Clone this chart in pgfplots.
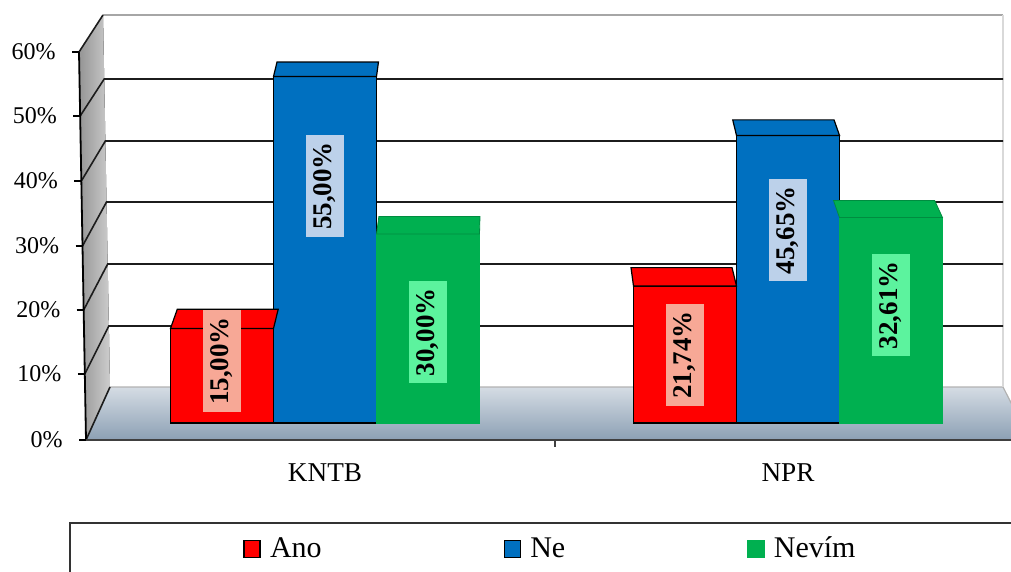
\documentclass[border=0pt]{standalone}
\usepackage{pgfplots}
\pgfplotsset{compat=1.18}
\usepackage{pgfplotstable}
\usepackage{fontspec}
\setmainfont{Liberation Serif}

\definecolor{anoF}{HTML}{FF0000}
\definecolor{anoT}{HTML}{C40000}
\definecolor{anoL}{HTML}{F7A896}
\definecolor{neF}{HTML}{0070C0}
\definecolor{neT}{HTML}{00569C}
\definecolor{neL}{HTML}{BCD1EA}
\definecolor{nevF}{HTML}{00B050}
\definecolor{nevT}{HTML}{008C40}
\definecolor{nevL}{HTML}{5CF39E}
\definecolor{floorA}{HTML}{D5DCE4}
\definecolor{floorB}{HTML}{8CA0B4}
\definecolor{wallA}{HTML}{959595}
\definecolor{wallB}{HTML}{CDCDCD}
\definecolor{gridc}{HTML}{1C1C1C}

% bar centres (horizontal drawing units), shares in %, label heights in %
\pgfplotstableread{
cat  xa   xb   xc   ano    ne     nevim  lano  lne   lnev
KNTB 222  325  428  15.00  55.00  30.00  9.84  37.6  14.4
NPR  685  788  891  21.74  45.65  32.61  10.8  30.6  18.7
}\survey

% vertical drawing row -> axis value (bar plane: 0 % at row 423, 6.3 rows per %)
\newcommand\rw[1]{{(423-#1)/6.3}}

% top face of a 3D bar, drawn as a plot mark at the bar's top centre.
% The mark reads its own position (axis corner = picture origin,
% 0.5pt per horizontal unit, 3.15pt per %) to set depth and perspective.
\pgfdeclareplotmark{topface}{%
  \pgfgettransformentries{\tfa}{\tfb}{\tfcc}{\tfdd}{\tfsx}{\tfsy}%
  \pgfmathsetmacro\tfc{\tfsx/0.5}%
  \pgfmathsetmacro\tfv{\tfsy/3.15-2.698}%
  \pgfmathsetmacro\tfd{21-0.12*\tfv}%
  \pgfmathsetmacro\tfxl{0.5*(-51.5+\tfd*(505-\tfc+51.5)*0.00105)}%
  \pgfmathsetmacro\tfxr{0.5*(51.5+\tfd*(505-\tfc-51.5)*0.00105)}%
  \pgfmathsetmacro\tfy{0.5*\tfd}%
  \pgfpathmoveto{\pgfpoint{-25.75pt}{0pt}}%
  \pgfpathlineto{\pgfpoint{\tfxl pt}{\tfy pt}}%
  \pgfpathlineto{\pgfpoint{\tfxr pt}{\tfy pt}}%
  \pgfpathlineto{\pgfpoint{25.75pt}{0pt}}%
  \pgfpathclose
  \pgfusepathqfillstroke}

% grid level: front row, back row
\newcommand\gridlevel[2]{%
  \draw[gridc, line width=0.8pt]
    (axis cs:{79+(#1-52)*0.01804},\rw{#1}) --
    (axis cs:{103+(#2-15)*0.01882},\rw{#2}) -- (axis cs:1003,\rw{#2});}
% front tick and its label
\newcommand\frontlevel[2]{%
  \draw[black, line width=0.7pt]
    (axis cs:{79+(#1-52)*0.01804-7},\rw{#1}) -- (axis cs:{79+(#1-52)*0.01804},\rw{#1});
  \node[anchor=east, inner sep=0pt, font=\fontsize{12}{14}\selectfont]
    at (axis cs:{79+(#1-52)*0.01804-23},\rw{#1}) {#2\%};}

\pgfplotsset{
  pctlabel/.style={
    draw=none, mark=none, forget plot, point meta=explicit,
    nodes near coords={\pgfmathprintnumber[assume math mode=true,fixed,fixed zerofill,precision=2,use comma]{\pgfplotspointmeta}\%},
    nodes near coords style={anchor=center, rotate=90, fill=#1,
      font=\bfseries\fontsize{13.5}{15}\selectfont,
      text height=9.3pt, text depth=2.4pt, inner xsep=3.5pt, inner ysep=3.8pt}},
  sq/.style={legend image code/.code={%
      \draw[##1, line width=0.8pt] (0pt,-4.3pt) rectangle (8pt,4.3pt);}},
  bar3d/.style 2 args={ybar, bar width=103, bar shift=0pt, forget plot,
      fill=#1, mark=topface, mark options={fill=#2}},
}

\begin{document}
\begin{tikzpicture}
\begin{axis}[
  at={(0pt,0pt)}, anchor=south west,
  scale only axis, width=505.5pt, height=220pt,
  xmin=0, xmax=1011, ymin=-2.698, ymax=67.143,
  clip=false,
  axis line style={draw=none},
  ytick=\empty,
  xtick={325,788}, xticklabels={KNTB,NPR},
  major tick length=0pt,
  x tick label style={anchor=base, yshift=-20.5pt, font=\fontsize{13.6}{15}\selectfont},
  legend columns=3,
  legend style={draw=none, fill=none, at={(0.2404,-0.2477)}, anchor=west,
    inner sep=0pt, font=\fontsize{15}{17}\selectfont,
    nodes={inner sep=0pt},
    /tikz/every odd column/.append style={column sep=4.5pt},
    /tikz/every even column/.append style={column sep=91pt}},
]
% side wall
\fill[left color=wallA, right color=wallB]
  (axis cs:79,\rw{52}) -- (axis cs:103,\rw{15}) -- (axis cs:110,\rw{387}) -- (axis cs:86,\rw{440}) -- cycle;
% floor
\fill[top color=floorA, bottom color=floorB]
  (axis cs:86,\rw{440}) -- (axis cs:110,\rw{387}) -- (axis cs:1003,\rw{387}) -- (axis cs:1030,\rw{440}) -- cycle;
\draw[gray!60, line width=0.6pt] (axis cs:110,\rw{387}) -- (axis cs:1003,\rw{387}) -- (axis cs:1030,\rw{440});
% back wall edges
\draw[gray!70, line width=0.6pt] (axis cs:103,\rw{15}) -- (axis cs:1003,\rw{15});
\draw[gray!30, line width=0.6pt] (axis cs:1003,\rw{15}) -- (axis cs:1003,\rw{387});
% grid
\gridlevel{374}{326}
\gridlevel{310}{264}
\gridlevel{246}{202}
\gridlevel{181}{141}
\gridlevel{116}{79}
\draw[gridc, line width=0.8pt] (axis cs:79,\rw{52}) -- (axis cs:103,\rw{15});
\draw[gridc, line width=0.8pt] (axis cs:86,\rw{440}) -- (axis cs:110,\rw{387});
% front value axis
\draw[black, line width=0.9pt] (axis cs:79,\rw{52}) -- (axis cs:86,\rw{440});
\frontlevel{440}{0}
\frontlevel{374}{10}
\frontlevel{310}{20}
\frontlevel{246}{30}
\frontlevel{181}{40}
\frontlevel{116}{50}
\frontlevel{52}{60}
% category axis
\draw[black!75, line width=0.7pt] (axis cs:86,\rw{440}) -- (axis cs:1011,\rw{440});
\draw[black!75, line width=0.6pt] (axis cs:555,\rw{440}) -- (axis cs:555,\rw{447});

% bars
\addplot[bar3d={anoF}{anoT}, draw=black, line width=0.6pt,
  mark options={draw=black, line width=0.6pt}]
  table[x=xa, y=ano] {\survey};
\addplot[bar3d={neF}{neT}, draw=black, line width=0.6pt,
  mark options={draw=black, line width=0.6pt}]
  table[x=xb, y=ne] {\survey};
\addplot[bar3d={nevF}{nevT}, draw=nevF, line width=0.4pt,
  mark options={draw=nevT, line width=0.4pt}]
  table[x=xc, y=nevim] {\survey};

% legend
\addlegendimage{sq, fill=anoF, draw=black}
\addlegendentry{Ano}
\addlegendimage{sq, fill=neF, draw=black}
\addlegendentry{Ne}
\addlegendimage{sq, fill=nevF, draw=nevF}
\addlegendentry{Nevím}

% value labels
\addplot[pctlabel=anoL] table[x=xa, y=lano, meta=ano] {\survey};
\addplot[pctlabel=neL] table[x=xb, y=lne, meta=ne] {\survey};
\addplot[pctlabel=nevL] table[x=xc, y=lnev, meta=nevim] {\survey};

% legend frame
\draw[black!80, line width=0.6pt] (axis cs:70,\rw{620}) -- (axis cs:70,\rw{523}) -- (axis cs:1040,\rw{523});

\coordinate (bbsw) at (axis cs:0,\rw{572});
\coordinate (bbne) at (axis cs:1011,\rw{0});
\end{axis}
\pgfresetboundingbox
\useasboundingbox (bbsw) rectangle (bbne);
\end{tikzpicture}
\end{document}
